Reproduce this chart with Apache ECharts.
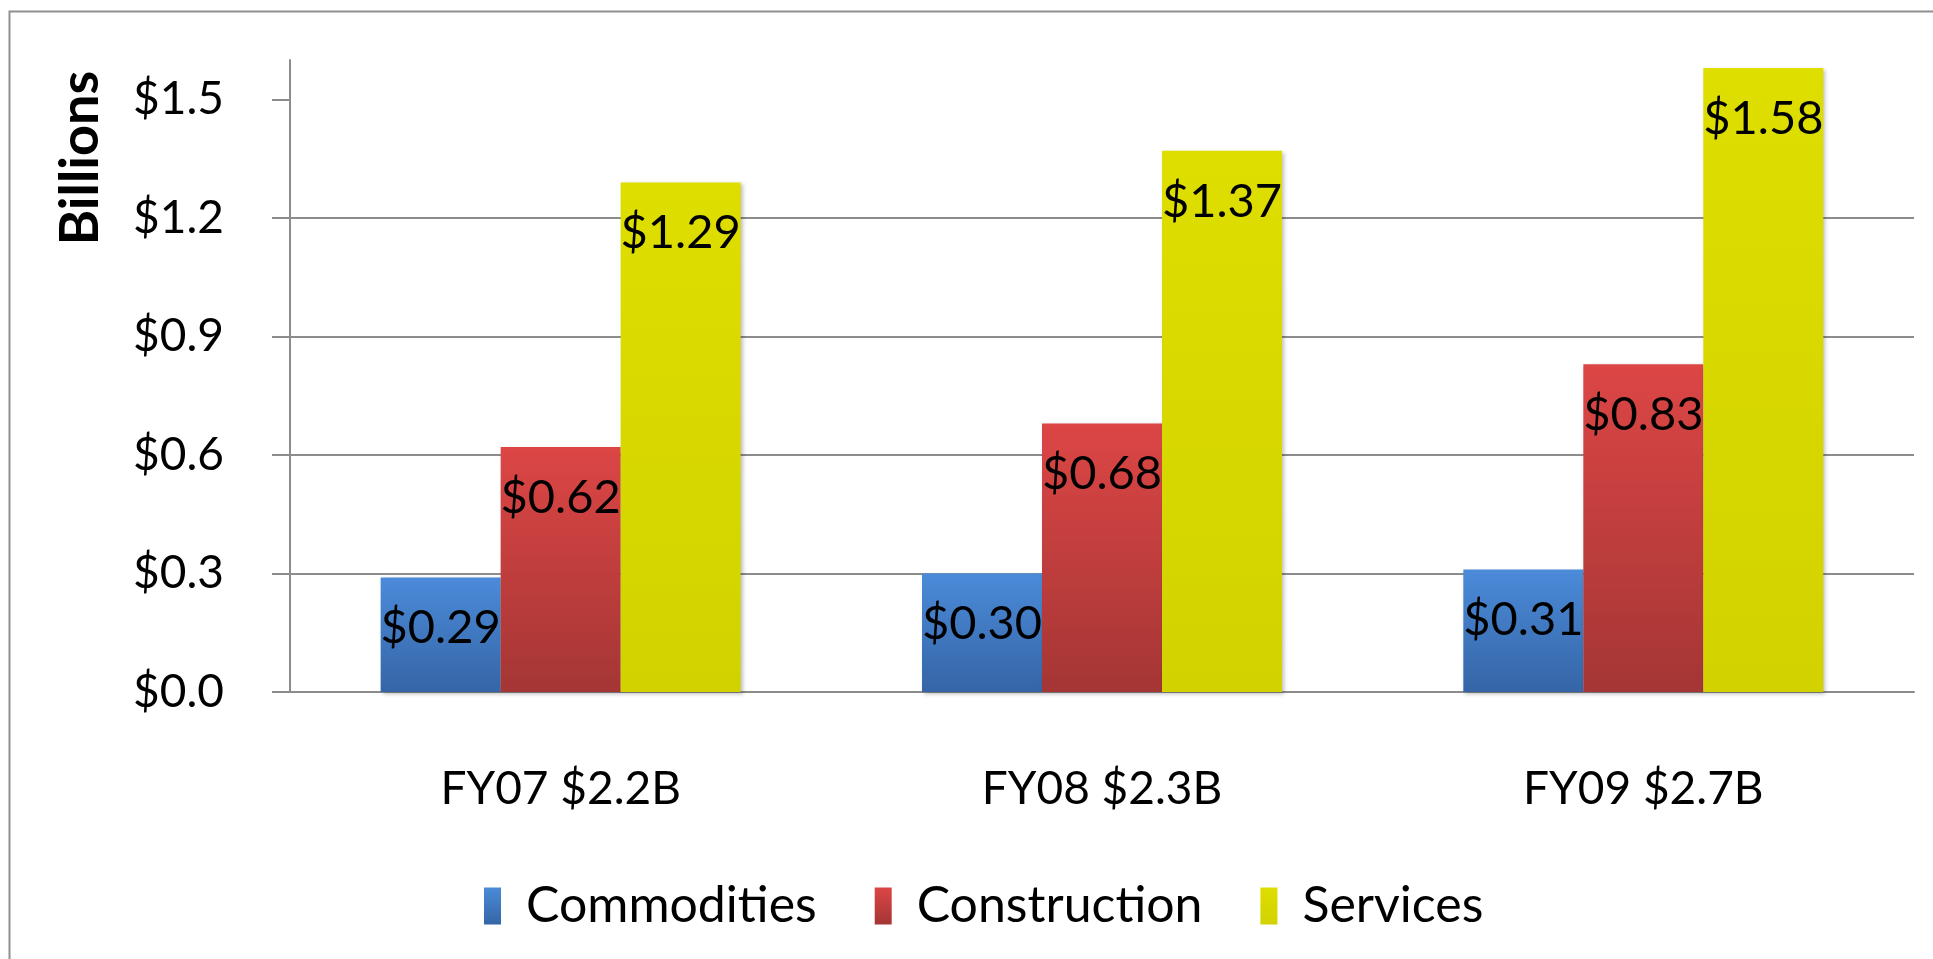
<!DOCTYPE html>
<html>
<head>
<meta charset="utf-8">
<script src="https://cdn.jsdelivr.net/npm/echarts@6/dist/echarts.min.js"></script>
<style>
  html, body { margin: 0; padding: 0; background: #fff; }
  #myChart { width: 1933px; height: 959px; }
</style>
</head>
<body>
<div id="myChart"></div>
<script>
// procurement spend by type, in $ billions
const categories = ['FY07 $2.2B', 'FY08 $2.3B', 'FY09 $2.7B'];
const commodities = [0.29, 0.30, 0.31];
const construction = [0.62, 0.68, 0.83];
const services = [1.29, 1.37, 1.58];
const yTicks = [0, 0.3, 0.6, 0.9, 1.2, 1.5];

const FONT = 'Lato';

function grad(top, bottom) {
  return new echarts.graphic.LinearGradient(0, 0, 0, 1, [
    { offset: 0, color: top },
    { offset: 1, color: bottom }
  ]);
}

function barSeries(name, data, top, bottom) {
  return {
    name: name,
    type: 'bar',
    data: data,
    barWidth: 120,
    barGap: '0%',
    itemStyle: {
      color: grad(top, bottom),
      shadowColor: 'rgba(0,0,0,0.25)',
      shadowBlur: 4,
      shadowOffsetX: 2,
      shadowOffsetY: 2
    },
    label: {
      show: true,
      position: 'insideTop',
      distance: 27,
      color: '#000',
      fontFamily: FONT,
      fontSize: 47,
      formatter: p => '$' + p.value.toFixed(2)
    }
  };
}

const option = {
  animation: false,
  backgroundColor: '#fff',
  textStyle: { fontFamily: FONT },
  grid: {
    left: 290,
    right: 19,
    top: 60,
    bottom: 267,
    containLabel: false
  },
  legend: {
    left: 479,
    top: 876,
    itemWidth: 17,
    itemHeight: 37,
    itemGap: 58,
    icon: 'rect',
    textStyle: {
      fontFamily: FONT,
      fontSize: 50,
      color: '#000',
      padding: [0, 0, 0, 20]
    },
    data: ['Commodities', 'Construction', 'Services']
  },
  xAxis: {
    type: 'category',
    data: categories,
    axisLine: { lineStyle: { color: '#8c8c8c', width: 2 } },
    axisTick: { length: 19, lineStyle: { color: '#8c8c8c', width: 2 } },
    axisLabel: {
      margin: 74,
      color: '#000',
      fontFamily: FONT,
      fontSize: 46
    }
  },
  yAxis: {
    type: 'value',
    min: 0,
    max: 1.6,
    interval: 0.3,
    axisLine: { show: true, lineStyle: { color: '#8c8c8c', width: 2 } },
    axisTick: {
      show: true,
      length: 18,
      customValues: yTicks,
      lineStyle: { color: '#8c8c8c', width: 2 }
    },
    splitLine: {
      showMaxLine: false,
      lineStyle: { color: '#8c8c8c', width: 2 }
    },
    axisLabel: {
      margin: 66,
      color: '#000',
      fontFamily: FONT,
      fontSize: 46,
      customValues: yTicks,
      formatter: v => '$' + v.toFixed(1)
    }
  },
  graphic: [
    {
      type: 'rect',
      left: 7,
      top: 9,
      shape: { width: 1960, height: 990 },
      style: { fill: 'none', stroke: '#909090', lineWidth: 2 },
      silent: true
    },
    {
      type: 'text',
      x: 81,
      y: 158,
      rotation: Math.PI / 2,
      style: {
        text: 'Billions',
        font: 'bold 54px Lato',
        fill: '#000',
        textAlign: 'center',
        textVerticalAlign: 'middle'
      }
    }
  ],
  series: [
    barSeries('Commodities', commodities, '#4b8bd9', '#3565a6'),
    barSeries('Construction', construction, '#dc4645', '#a43635'),
    barSeries('Services', services, '#dede00', '#d2d200')
  ]
};

const myChart = echarts.init(document.getElementById('myChart'));
myChart.setOption(option, true);
</script>
</body>
</html>
